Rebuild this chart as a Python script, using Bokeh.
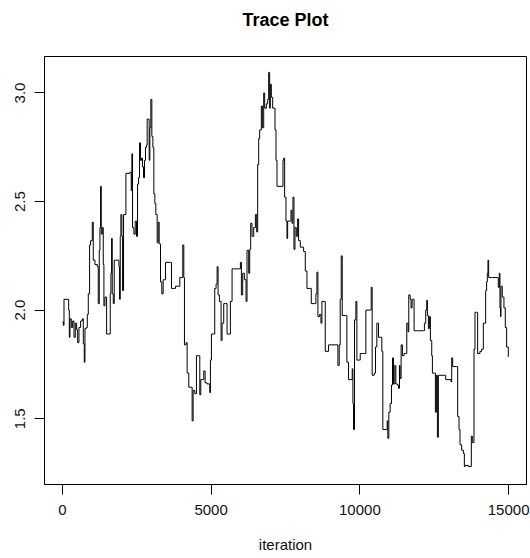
from bokeh.plotting import figure
from bokeh.models import Range1d, FixedTicker, PrintfTickFormatter, Title
from bokeh.embed import file_html
from bokeh.resources import INLINE

iteration = [
    0, 33, 55, 189, 212, 234, 256, 301, 346, 391, 435, 480, 514, 558, 614, 670, 704, 737, 760, 804,
    838, 872, 916, 950, 1006, 1039, 1095, 1174, 1207, 1241, 1263, 1285, 1308, 1341, 1375, 1397, 1431,
    1487, 1587, 1610, 1632, 1655, 1677, 1711, 1744, 1845, 1901, 1923, 1946, 1968, 2001, 2024, 2057,
    2102, 2136, 2270, 2315, 2337, 2359, 2404, 2449, 2493, 2527, 2561, 2594, 2628, 2661, 2695, 2728,
    2762, 2795, 2829, 2851, 2885, 2918, 2941, 2974, 3008, 3042, 3075, 3109, 3142, 3187, 3220, 3254,
    3299, 3343, 3388, 3433, 3466, 3635, 3668, 3746, 3802, 3914, 3948, 4026, 4048, 4082, 4104, 4160,
    4194, 4250, 4328, 4362, 4395, 4451, 4507, 4585, 4619, 4653, 4720, 4753, 4798, 4865, 4955, 4977,
    5010, 5089, 5122, 5167, 5201, 5234, 5279, 5335, 5368, 5424, 5480, 5536, 5592, 5648, 5704, 5928,
    5984, 6017, 6062, 6118, 6174, 6207, 6263, 6297, 6330, 6375, 6431, 6487, 6532, 6565, 6599, 6632,
    6688, 6722, 6767, 6800, 6856, 6901, 6934, 6968, 6990, 7024, 7069, 7113, 7147, 7181, 7214, 7382,
    7415, 7438, 7471, 7516, 7550, 7572, 7639, 7684, 7718, 7751, 7785, 7818, 7863, 7908, 7941, 7997,
    8053, 8109, 8165, 8221, 8333, 8366, 8478, 8523, 8556, 8590, 8646, 8691, 8724, 8814, 8836, 8892,
    8948, 9228, 9261, 9306, 9339, 9373, 9407, 9507, 9563, 9619, 9697, 9742, 9765, 9787, 9820, 9865,
    9899, 9977, 10011, 10123, 10201, 10346, 10380, 10413, 10481, 10525, 10570, 10626, 10682, 10738,
    10771, 10883, 10917, 10939, 10973, 11017, 11062, 11096, 11129, 11174, 11208, 11264, 11297, 11331,
    11352, 11386, 11430, 11486, 11542, 11576, 11620, 11643, 11688, 11721, 11755, 11799, 11822, 11967,
    12135, 12169, 12213, 12247, 12269, 12303, 12336, 12370, 12415, 12437, 12504, 12538, 12571, 12605,
    12638, 12694, 12840, 12884, 13030, 13063, 13086, 13119, 13254, 13287, 13332, 13365, 13421, 13477,
    13511, 13544, 13645, 13701, 13746, 13779, 13813, 13835, 13869, 13925, 13958, 14036, 14093, 14149,
    14227, 14260, 14283, 14305, 14328, 14428, 14540, 14618, 14652, 14685, 14708, 14730, 14741, 14786,
    14842, 14887, 14932, 14988,
]
sample = [
    1.945, 1.93, 2.05, 2.05, 2.0, 1.875, 1.96, 1.92, 1.95, 1.875, 1.94, 1.91, 1.85, 1.92, 1.95, 1.96, 1.845, 1.76, 1.915, 1.92,
    1.98, 2.075, 2.30, 2.32, 2.405, 2.23, 2.21, 2.20, 2.03, 2.275, 2.38, 2.57, 2.35, 2.38, 2.21, 2.02, 2.06,
    1.89, 1.89, 2.075, 2.17, 2.33, 2.075, 2.03, 2.23, 2.23, 2.20, 2.05, 2.34, 2.44, 2.34, 2.09, 2.44,
    2.44, 2.63, 2.635, 2.55, 2.72, 2.38, 2.35, 2.41, 2.34, 2.58, 2.61, 2.77, 2.69, 2.70, 2.66, 2.61,
    2.69, 2.75, 2.76, 2.88, 2.88, 2.69, 2.84, 2.97, 2.80, 2.75, 2.535, 2.49, 2.44, 2.31, 2.405, 2.305,
    2.13, 2.075, 2.14, 2.14, 2.22, 2.22, 2.10, 2.10, 2.11, 2.11, 2.15, 2.15, 2.30, 2.15, 1.84, 1.85,
    1.71, 1.645, 1.645, 1.49, 1.63, 1.615, 1.79, 1.79, 1.61, 1.68, 1.68, 1.72, 1.665, 1.66, 1.62, 1.77,
    1.89, 1.89, 2.10, 2.12, 2.20, 2.07, 2.04, 1.86, 1.94, 2.03, 2.03, 1.89, 1.89, 2.04, 2.19, 2.19,
    2.22, 2.07, 2.17, 2.14, 2.04, 2.275, 2.17, 2.28, 2.40, 2.34, 2.38, 2.44, 2.36, 2.67, 2.79, 2.83,
    2.94, 2.84, 3.00, 2.93, 2.95, 2.97, 3.095, 2.93, 3.04, 2.98, 2.93, 2.93, 2.83, 2.69, 2.57, 2.57,
    2.69, 2.70, 2.52, 2.41, 2.33, 2.41, 2.41, 2.46, 2.40, 2.52, 2.28, 2.38, 2.34, 2.42, 2.32, 2.29,
    2.29, 2.27, 2.18, 2.10, 2.10, 2.03, 2.03, 2.075, 2.175, 1.97, 1.98, 1.94, 2.04, 2.04, 1.81, 1.81,
    1.84, 1.84, 1.745, 1.84, 2.05, 2.25, 1.975, 1.975, 1.76, 1.68, 1.68, 1.73, 1.57, 1.45, 1.955, 2.04,
    1.77, 1.77, 1.80, 1.80, 2.0, 2.0, 2.105, 1.70, 1.71, 1.83, 1.94, 1.875, 1.875, 1.81,
    1.45, 1.45, 1.49, 1.41, 1.53, 1.57, 1.655, 1.78, 1.66, 1.745, 1.66, 1.655, 1.64, 1.745,
    1.685, 1.84, 1.79, 1.80, 1.80, 1.94, 1.90, 2.07, 2.05, 2.01, 2.05, 2.05, 1.905, 1.905,
    1.905, 1.94, 2.0, 2.045, 1.975, 1.915, 1.97, 1.86, 1.79, 1.71, 1.71, 1.53, 1.70, 1.415,
    1.70, 1.70, 1.70, 1.68, 1.68, 1.67, 1.78, 1.74, 1.74, 1.51, 1.45, 1.38, 1.355, 1.34,
    1.28, 1.285, 1.28, 1.28, 1.42, 1.39, 1.39, 1.82, 1.99, 1.99, 1.80, 1.81, 1.82, 1.94,
    2.09, 2.13, 2.17, 2.23, 2.15, 2.15, 2.15, 2.15, 2.105, 2.17, 2.01, 1.97, 2.11, 2.06,
    2.01, 1.92, 1.83, 1.785,
]

x_ticks = [0, 5000, 10000, 15000]
y_ticks = [1.5, 2.0, 2.5, 3.0]
title_text = "Trace Plot"
x_label_text = "iteration"

FONT = "Liberation Sans"

p = figure(
    width=530, height=558,
    output_backend="svg", toolbar_location=None,
    x_range=Range1d(-600, 15600), y_range=Range1d(1.197, 3.168),
    min_border_left=44, min_border_right=4, min_border_top=56, min_border_bottom=74,
    x_axis_label=x_label_text,
)

p.step(iteration, sample, mode="after", line_color="black", line_width=1)

p.grid.visible = False
p.background_fill_color = "white"
p.border_fill_color = "white"
p.outline_line_color = "black"
p.outline_line_width = 1

# spacer (closest to the frame) then the real title stacked above it
p.add_layout(Title(text=" ", text_font=FONT, text_font_size="18px", standoff=5), "above")
p.add_layout(Title(text=title_text, text_font=FONT, text_font_size="18px",
                   text_font_style="bold", text_color="black", align="center",
                   standoff=0), "above")

for ax in (p.xaxis[0], p.yaxis[0]):
    ax.axis_line_color = "black"
    ax.major_tick_line_color = "black"
    ax.major_tick_out = 10
    ax.major_tick_in = 0
    ax.minor_tick_line_color = None
    ax.major_label_text_font = FONT
    ax.major_label_text_font_size = "15px"
    ax.major_label_text_color = "#111111"
    ax.axis_label_text_font = FONT
    ax.axis_label_text_font_size = "15px"
    ax.axis_label_text_font_style = "normal"
    ax.axis_label_text_color = "#111111"

p.xaxis[0].ticker = FixedTicker(ticks=x_ticks)
p.xaxis[0].major_label_standoff = 10
p.xaxis[0].axis_label_standoff = 18

p.yaxis[0].ticker = FixedTicker(ticks=y_ticks)
p.yaxis[0].formatter = PrintfTickFormatter(format="%.1f")
p.yaxis[0].major_label_orientation = "vertical"
p.yaxis[0].major_label_standoff = 9

open("out.html", "w").write(file_html(p, INLINE))
